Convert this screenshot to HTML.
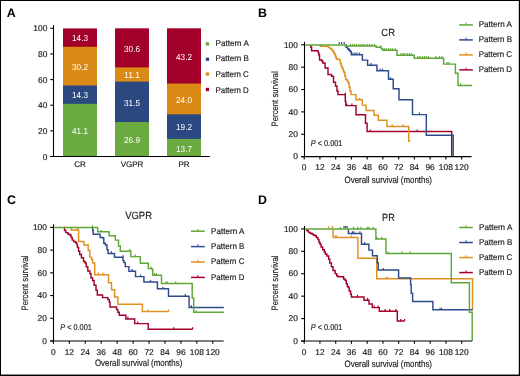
<!DOCTYPE html><html><head><meta charset="utf-8"><style>html,body{margin:0;padding:0;background:#fff;}svg{display:block;will-change:transform;}text{font-family:"Liberation Sans",sans-serif;text-rendering:geometricPrecision;}</style></head><body>
<svg width="520" height="376" viewBox="0 0 520 376">
<rect x="0" y="0" width="520" height="376" fill="#fff"/>
<text x="6.8" y="17.3" font-size="12.4" text-anchor="start" fill="#000" font-weight="bold" >A</text>
<rect x="63.0" y="28.43" width="34" height="128.07" fill="#a2002a"/>
<rect x="63.0" y="46.76" width="34" height="109.74" fill="#db8a16"/>
<rect x="63.0" y="85.48" width="34" height="71.02" fill="#2c4880"/>
<rect x="63.0" y="103.81" width="34" height="52.69" fill="#6aaa40"/>
<text x="80.0" y="133.9549" font-size="8.7" text-anchor="middle" fill="#fff" font-weight="normal" textLength="15.9" lengthAdjust="spacingAndGlyphs" >41.1</text>
<text x="80.0" y="98.44350000000001" font-size="8.7" text-anchor="middle" fill="#fff" font-weight="normal" textLength="15.9" lengthAdjust="spacingAndGlyphs" >14.3</text>
<text x="80.0" y="69.91900000000001" font-size="8.7" text-anchor="middle" fill="#fff" font-weight="normal" textLength="15.9" lengthAdjust="spacingAndGlyphs" >30.2</text>
<text x="80.0" y="41.39450000000001" font-size="8.7" text-anchor="middle" fill="#fff" font-weight="normal" textLength="15.9" lengthAdjust="spacingAndGlyphs" >14.3</text>
<text x="80.0" y="166.5" font-size="8.0" text-anchor="middle" fill="#222" font-weight="normal" stroke="#222" stroke-width="0.18" >CR</text>
<rect x="115.0" y="28.30" width="34" height="128.20" fill="#a2002a"/>
<rect x="115.0" y="67.40" width="34" height="89.10" fill="#db8a16"/>
<rect x="115.0" y="81.63" width="34" height="74.87" fill="#2c4880"/>
<rect x="115.0" y="122.01" width="34" height="34.49" fill="#6aaa40"/>
<text x="132.0" y="143.05710000000002" font-size="8.7" text-anchor="middle" fill="#fff" font-weight="normal" textLength="15.9" lengthAdjust="spacingAndGlyphs" >26.9</text>
<text x="132.0" y="105.6227" font-size="8.7" text-anchor="middle" fill="#fff" font-weight="normal" textLength="15.9" lengthAdjust="spacingAndGlyphs" >31.5</text>
<text x="132.0" y="78.31609999999999" font-size="8.7" text-anchor="middle" fill="#fff" font-weight="normal" textLength="15.9" lengthAdjust="spacingAndGlyphs" >11.1</text>
<text x="132.0" y="51.65050000000001" font-size="8.7" text-anchor="middle" fill="#fff" font-weight="normal" textLength="15.9" lengthAdjust="spacingAndGlyphs" >30.6</text>
<text x="132.0" y="166.5" font-size="8.0" text-anchor="middle" fill="#222" font-weight="normal" stroke="#222" stroke-width="0.18" >VGPR</text>
<rect x="167.0" y="28.30" width="34" height="128.20" fill="#a2002a"/>
<rect x="167.0" y="83.55" width="34" height="72.95" fill="#db8a16"/>
<rect x="167.0" y="114.32" width="34" height="42.18" fill="#2c4880"/>
<rect x="167.0" y="138.94" width="34" height="17.56" fill="#6aaa40"/>
<text x="184.0" y="151.5183" font-size="8.7" text-anchor="middle" fill="#fff" font-weight="normal" textLength="15.9" lengthAdjust="spacingAndGlyphs" >13.7</text>
<text x="184.0" y="130.42940000000002" font-size="8.7" text-anchor="middle" fill="#fff" font-weight="normal" textLength="15.9" lengthAdjust="spacingAndGlyphs" >19.2</text>
<text x="184.0" y="102.73819999999999" font-size="8.7" text-anchor="middle" fill="#fff" font-weight="normal" textLength="15.9" lengthAdjust="spacingAndGlyphs" >24.0</text>
<text x="184.0" y="59.72710000000001" font-size="8.7" text-anchor="middle" fill="#fff" font-weight="normal" textLength="15.9" lengthAdjust="spacingAndGlyphs" >43.2</text>
<text x="184.0" y="166.5" font-size="8.0" text-anchor="middle" fill="#222" font-weight="normal" stroke="#222" stroke-width="0.18" >PR</text>
<line x1="53.5" y1="25" x2="53.5" y2="157" stroke="#000" stroke-width="1.1"/>
<line x1="50.3" y1="156.5" x2="53.5" y2="156.5" stroke="#000" stroke-width="1.1"/>
<text x="47.3" y="159.5" font-size="8.4" text-anchor="end" fill="#222" font-weight="normal" stroke="#222" stroke-width="0.18" >0</text>
<line x1="50.3" y1="130.86" x2="53.5" y2="130.86" stroke="#000" stroke-width="1.1"/>
<text x="47.3" y="133.86" font-size="8.4" text-anchor="end" fill="#222" font-weight="normal" stroke="#222" stroke-width="0.18" >20</text>
<line x1="50.3" y1="105.22" x2="53.5" y2="105.22" stroke="#000" stroke-width="1.1"/>
<text x="47.3" y="108.22" font-size="8.4" text-anchor="end" fill="#222" font-weight="normal" stroke="#222" stroke-width="0.18" >40</text>
<line x1="50.3" y1="79.58000000000001" x2="53.5" y2="79.58000000000001" stroke="#000" stroke-width="1.1"/>
<text x="47.3" y="82.58000000000001" font-size="8.4" text-anchor="end" fill="#222" font-weight="normal" stroke="#222" stroke-width="0.18" >60</text>
<line x1="50.3" y1="53.94000000000001" x2="53.5" y2="53.94000000000001" stroke="#000" stroke-width="1.1"/>
<text x="47.3" y="56.94000000000001" font-size="8.4" text-anchor="end" fill="#222" font-weight="normal" stroke="#222" stroke-width="0.18" >80</text>
<line x1="50.3" y1="28.30000000000001" x2="53.5" y2="28.30000000000001" stroke="#000" stroke-width="1.1"/>
<text x="47.3" y="31.30000000000001" font-size="8.4" text-anchor="end" fill="#222" font-weight="normal" stroke="#222" stroke-width="0.18" >100</text>
<line x1="50.1" y1="156.5" x2="209.8" y2="156.5" stroke="#000" stroke-width="1.0"/>
<rect x="205.8" y="42.2" width="3.3" height="3.3" fill="#6aaa40"/>
<text x="215.5" y="45.8" font-size="8.4" text-anchor="start" fill="#222" font-weight="normal" textLength="33.3" lengthAdjust="spacingAndGlyphs" stroke="#222" stroke-width="0.18" >Pattern A</text>
<rect x="205.8" y="57.6" width="3.3" height="3.3" fill="#2c4880"/>
<text x="215.5" y="61.1" font-size="8.4" text-anchor="start" fill="#222" font-weight="normal" textLength="33.3" lengthAdjust="spacingAndGlyphs" stroke="#222" stroke-width="0.18" >Pattern B</text>
<rect x="205.8" y="72.4" width="3.3" height="3.3" fill="#db8a16"/>
<text x="215.5" y="76.8" font-size="8.4" text-anchor="start" fill="#222" font-weight="normal" textLength="33.3" lengthAdjust="spacingAndGlyphs" stroke="#222" stroke-width="0.18" >Pattern C</text>
<rect x="205.8" y="87.8" width="3.3" height="3.3" fill="#a2002a"/>
<text x="215.5" y="92.9" font-size="8.4" text-anchor="start" fill="#222" font-weight="normal" textLength="33.3" lengthAdjust="spacingAndGlyphs" stroke="#222" stroke-width="0.18" >Pattern D</text>
<path d="M310.20,44.90 L310.20,45.60 L310.80,45.60 L310.80,47.20 L311.60,47.20 L311.60,48.80 L311.60,50.80 L318.00,50.80 L318.20,50.80 L318.20,52.80 L318.80,52.80 L318.80,54.80 L319.50,54.80 L319.50,57.60 L319.60,57.60 L319.60,60.00 L322.00,60.00 L322.00,61.20 L322.80,61.20 L322.80,62.90 L325.10,62.90 L325.10,67.90 L327.10,67.90 L328.00,67.90 L328.00,74.40 L331.20,74.40 L331.50,74.40 L331.50,76.30 L333.50,76.30 L333.50,82.30 L335.50,82.30 L335.50,86.00 L337.00,86.00 L337.00,90.90 L338.00,90.90 L338.00,94.60 L345.30,94.60 L345.30,101.40 L345.80,101.40 L345.80,105.60 L356.00,105.60 L356.00,114.70 L365.50,114.70 L365.50,123.20 L367.10,123.20 L367.10,131.50 L451.70,131.50 L451.70,156.60" fill="none" stroke="#a5002b" stroke-width="1.45" stroke-linejoin="miter" stroke-linecap="butt"/>
<line x1="345.3" y1="94.6" x2="345.3" y2="92.5" stroke="#a5002b" stroke-width="1.2"/>
<line x1="346.9" y1="105.6" x2="346.9" y2="103.5" stroke="#a5002b" stroke-width="1.2"/>
<line x1="351.9" y1="105.6" x2="351.9" y2="103.5" stroke="#a5002b" stroke-width="1.2"/>
<line x1="370.3" y1="131.5" x2="370.3" y2="129.4" stroke="#a5002b" stroke-width="1.2"/>
<line x1="417.2" y1="131.5" x2="417.2" y2="129.4" stroke="#a5002b" stroke-width="1.2"/>
<path d="M320.40,44.90 L320.40,46.20 L326.00,46.20 L328.40,46.20 L328.40,47.60 L330.00,47.60 L330.00,48.40 L331.60,48.40 L331.60,49.60 L332.40,49.60 L332.40,50.80 L333.60,50.80 L333.60,52.40 L334.40,52.40 L334.40,54.00 L335.20,54.00 L335.20,56.00 L336.00,56.00 L336.00,58.00 L336.80,58.00 L336.80,59.20 L339.20,59.20 L340.00,59.20 L340.00,61.20 L340.40,61.20 L340.40,63.50 L341.20,63.50 L341.20,66.00 L342.00,66.00 L342.00,68.30 L343.20,68.30 L343.20,70.70 L344.00,70.70 L344.00,72.50 L344.80,72.50 L344.80,76.00 L345.60,76.00 L345.60,79.50 L347.20,79.50 L347.20,81.30 L348.20,81.30 L348.20,83.00 L349.20,83.00 L349.20,87.00 L350.00,87.00 L350.00,91.00 L351.00,91.00 L351.00,94.60 L356.00,94.60 L356.00,99.80 L362.30,99.80 L362.30,105.10 L366.10,105.10 L366.10,110.40 L374.00,110.40 L374.00,115.20 L378.30,115.20 L378.30,120.30 L387.00,120.30 L387.00,126.40 L408.70,126.40 L408.70,141.00" fill="none" stroke="#e0901c" stroke-width="1.45" stroke-linejoin="miter" stroke-linecap="butt"/>
<line x1="359.7" y1="99.8" x2="359.7" y2="97.7" stroke="#e0901c" stroke-width="1.2"/>
<line x1="392.1" y1="126.4" x2="392.1" y2="124.30000000000001" stroke="#e0901c" stroke-width="1.2"/>
<line x1="403.2" y1="126.4" x2="403.2" y2="124.30000000000001" stroke="#e0901c" stroke-width="1.2"/>
<path d="M345.60,44.90 L346.30,44.90 L346.30,47.30 L347.50,47.30 L347.50,48.80 L348.80,48.80 L348.80,50.30 L350.30,50.30 L350.30,51.80 L351.30,51.80 L351.30,54.70 L362.40,54.70 L362.40,60.10 L367.60,60.10 L367.60,65.20 L376.90,65.20 L376.90,70.80 L388.50,70.80 L388.50,79.30 L393.20,79.30 L393.20,88.80 L399.00,88.80 L399.00,99.70 L412.50,99.70 L412.50,114.60 L426.30,114.60 L426.30,135.30 L453.20,135.30 L453.20,156.60" fill="none" stroke="#2f4b8c" stroke-width="1.45" stroke-linejoin="miter" stroke-linecap="butt"/>
<line x1="339.2" y1="44.2" x2="339.2" y2="42.1" stroke="#2f4b8c" stroke-width="1.2"/>
<line x1="341.6" y1="44.2" x2="341.6" y2="42.1" stroke="#2f4b8c" stroke-width="1.2"/>
<line x1="344.2" y1="44.2" x2="344.2" y2="42.1" stroke="#2f4b8c" stroke-width="1.2"/>
<line x1="353" y1="54.7" x2="353" y2="52.6" stroke="#2f4b8c" stroke-width="1.2"/>
<line x1="355" y1="54.7" x2="355" y2="52.6" stroke="#2f4b8c" stroke-width="1.2"/>
<line x1="357" y1="54.7" x2="357" y2="52.6" stroke="#2f4b8c" stroke-width="1.2"/>
<line x1="359.5" y1="54.7" x2="359.5" y2="52.6" stroke="#2f4b8c" stroke-width="1.2"/>
<line x1="371" y1="65.2" x2="371" y2="63.1" stroke="#2f4b8c" stroke-width="1.2"/>
<line x1="380" y1="70.8" x2="380" y2="68.7" stroke="#2f4b8c" stroke-width="1.2"/>
<line x1="382.5" y1="70.8" x2="382.5" y2="68.7" stroke="#2f4b8c" stroke-width="1.2"/>
<line x1="390.5" y1="79.3" x2="390.5" y2="77.2" stroke="#2f4b8c" stroke-width="1.2"/>
<line x1="419.4" y1="114.6" x2="419.4" y2="112.5" stroke="#2f4b8c" stroke-width="1.2"/>
<path d="M304.50,44.90 L345.20,44.90 L345.20,46.00 L376.20,46.00 L376.20,47.30 L381.20,47.30 L381.20,48.60 L382.60,48.60 L382.60,50.30 L397.00,50.30 L397.00,55.20 L414.30,55.20 L414.30,58.20 L443.60,58.20 L443.60,64.10 L455.40,64.10 L455.40,73.30 L458.00,73.30 L458.00,85.40 L472.00,85.40" fill="none" stroke="#5fa637" stroke-width="1.45" stroke-linejoin="miter" stroke-linecap="butt"/>
<line x1="350.5" y1="46.0" x2="350.5" y2="43.9" stroke="#5fa637" stroke-width="1.2"/>
<line x1="352.5" y1="46.0" x2="352.5" y2="43.9" stroke="#5fa637" stroke-width="1.2"/>
<line x1="354.5" y1="46.0" x2="354.5" y2="43.9" stroke="#5fa637" stroke-width="1.2"/>
<line x1="356.5" y1="46.0" x2="356.5" y2="43.9" stroke="#5fa637" stroke-width="1.2"/>
<line x1="359" y1="46.0" x2="359" y2="43.9" stroke="#5fa637" stroke-width="1.2"/>
<line x1="361" y1="46.0" x2="361" y2="43.9" stroke="#5fa637" stroke-width="1.2"/>
<line x1="363" y1="46.0" x2="363" y2="43.9" stroke="#5fa637" stroke-width="1.2"/>
<line x1="365" y1="46.0" x2="365" y2="43.9" stroke="#5fa637" stroke-width="1.2"/>
<line x1="367.5" y1="46.0" x2="367.5" y2="43.9" stroke="#5fa637" stroke-width="1.2"/>
<line x1="369.5" y1="46.0" x2="369.5" y2="43.9" stroke="#5fa637" stroke-width="1.2"/>
<line x1="372" y1="46.0" x2="372" y2="43.9" stroke="#5fa637" stroke-width="1.2"/>
<line x1="374.5" y1="46.0" x2="374.5" y2="43.9" stroke="#5fa637" stroke-width="1.2"/>
<line x1="380.8" y1="47.3" x2="380.8" y2="45.199999999999996" stroke="#5fa637" stroke-width="1.2"/>
<line x1="384.4" y1="50.3" x2="384.4" y2="48.199999999999996" stroke="#5fa637" stroke-width="1.2"/>
<line x1="386.2" y1="50.3" x2="386.2" y2="48.199999999999996" stroke="#5fa637" stroke-width="1.2"/>
<line x1="388.3" y1="50.3" x2="388.3" y2="48.199999999999996" stroke="#5fa637" stroke-width="1.2"/>
<line x1="390.5" y1="50.3" x2="390.5" y2="48.199999999999996" stroke="#5fa637" stroke-width="1.2"/>
<line x1="392.5" y1="50.3" x2="392.5" y2="48.199999999999996" stroke="#5fa637" stroke-width="1.2"/>
<line x1="395.3" y1="50.3" x2="395.3" y2="48.199999999999996" stroke="#5fa637" stroke-width="1.2"/>
<line x1="401" y1="55.2" x2="401" y2="53.1" stroke="#5fa637" stroke-width="1.2"/>
<line x1="403" y1="55.2" x2="403" y2="53.1" stroke="#5fa637" stroke-width="1.2"/>
<line x1="405" y1="55.2" x2="405" y2="53.1" stroke="#5fa637" stroke-width="1.2"/>
<line x1="407.5" y1="55.2" x2="407.5" y2="53.1" stroke="#5fa637" stroke-width="1.2"/>
<line x1="409.5" y1="55.2" x2="409.5" y2="53.1" stroke="#5fa637" stroke-width="1.2"/>
<line x1="411.5" y1="55.2" x2="411.5" y2="53.1" stroke="#5fa637" stroke-width="1.2"/>
<line x1="418" y1="58.2" x2="418" y2="56.1" stroke="#5fa637" stroke-width="1.2"/>
<line x1="420" y1="58.2" x2="420" y2="56.1" stroke="#5fa637" stroke-width="1.2"/>
<line x1="422.5" y1="58.2" x2="422.5" y2="56.1" stroke="#5fa637" stroke-width="1.2"/>
<line x1="424.5" y1="58.2" x2="424.5" y2="56.1" stroke="#5fa637" stroke-width="1.2"/>
<line x1="426.5" y1="58.2" x2="426.5" y2="56.1" stroke="#5fa637" stroke-width="1.2"/>
<line x1="428.5" y1="58.2" x2="428.5" y2="56.1" stroke="#5fa637" stroke-width="1.2"/>
<line x1="436" y1="58.2" x2="436" y2="56.1" stroke="#5fa637" stroke-width="1.2"/>
<line x1="439.5" y1="58.2" x2="439.5" y2="56.1" stroke="#5fa637" stroke-width="1.2"/>
<line x1="442" y1="58.2" x2="442" y2="56.1" stroke="#5fa637" stroke-width="1.2"/>
<line x1="447" y1="64.1" x2="447" y2="61.99999999999999" stroke="#5fa637" stroke-width="1.2"/>
<line x1="449" y1="64.1" x2="449" y2="61.99999999999999" stroke="#5fa637" stroke-width="1.2"/>
<line x1="460.5" y1="85.4" x2="460.5" y2="83.30000000000001" stroke="#5fa637" stroke-width="1.2"/>
<path d="M64.20,227.40 L64.50,227.40 L64.50,230.50 L65.80,230.50 L65.80,232.60 L68.00,232.60 L68.00,234.20 L70.10,234.20 L70.10,235.30 L71.10,235.30 L71.10,237.40 L72.20,237.40 L72.20,240.10 L73.80,240.10 L73.80,241.70 L75.90,241.70 L75.90,243.30 L77.00,243.30 L77.00,244.90 L77.50,244.90 L77.50,247.50 L78.60,247.50 L78.60,251.30 L79.70,251.30 L79.70,254.40 L81.40,254.40 L81.40,257.70 L83.50,257.70 L83.50,261.40 L85.10,261.40 L85.10,263.00 L86.20,263.00 L86.20,266.70 L87.80,266.70 L87.80,271.00 L89.90,271.00 L89.90,273.60 L91.00,273.60 L91.00,277.90 L92.60,277.90 L92.60,280.50 L94.10,280.50 L94.10,285.30 L96.00,285.30 L96.00,290.30 L97.30,290.30 L97.30,295.00 L102.60,295.00 L102.60,297.60 L106.60,297.60 L108.00,297.60 L108.00,299.60 L109.30,299.60 L109.30,302.30 L110.00,302.30 L110.00,306.90 L116.60,306.90 L116.60,309.60 L117.90,309.60 L117.90,312.30 L119.30,312.30 L119.30,315.30 L125.50,315.30 L125.90,315.30 L125.90,318.90 L134.70,318.90 L134.70,323.60 L148.20,323.60 L148.20,329.30 L192.60,329.30" fill="none" stroke="#a5002b" stroke-width="1.45" stroke-linejoin="miter" stroke-linecap="butt"/>
<line x1="127.9" y1="318.9" x2="127.9" y2="316.79999999999995" stroke="#a5002b" stroke-width="1.2"/>
<line x1="137.7" y1="323.6" x2="137.7" y2="321.5" stroke="#a5002b" stroke-width="1.2"/>
<line x1="173.7" y1="329.3" x2="173.7" y2="327.2" stroke="#a5002b" stroke-width="1.2"/>
<line x1="192.6" y1="329.3" x2="192.6" y2="327.2" stroke="#a5002b" stroke-width="1.2"/>
<path d="M71.10,227.40 L71.10,230.00 L78.60,230.00 L78.60,241.50 L83.90,241.50 L83.90,244.90 L88.20,244.90 L88.20,250.20 L89.80,250.20 L89.80,257.10 L91.50,257.10 L91.50,259.30 L92.60,259.30 L92.60,263.00 L94.70,263.00 L94.70,264.00 L94.70,274.70 L108.50,274.70 L108.50,282.70 L111.50,282.70 L111.50,289.70 L114.60,289.70 L114.60,297.00 L117.90,297.00 L117.90,304.20 L142.40,304.20 L142.40,311.50 L168.60,311.50" fill="none" stroke="#e0901c" stroke-width="1.45" stroke-linejoin="miter" stroke-linecap="butt"/>
<line x1="77.6" y1="230" x2="77.6" y2="227.9" stroke="#e0901c" stroke-width="1.2"/>
<line x1="98.4" y1="274.7" x2="98.4" y2="272.59999999999997" stroke="#e0901c" stroke-width="1.2"/>
<line x1="102.7" y1="274.7" x2="102.7" y2="272.59999999999997" stroke="#e0901c" stroke-width="1.2"/>
<line x1="147.8" y1="311.5" x2="147.8" y2="309.4" stroke="#e0901c" stroke-width="1.2"/>
<line x1="168.6" y1="311.5" x2="168.6" y2="309.4" stroke="#e0901c" stroke-width="1.2"/>
<path d="M92.70,227.40 L92.70,230.50 L93.20,230.50 L93.20,234.20 L100.10,234.20 L100.10,237.40 L102.80,237.40 L102.80,238.00 L103.80,238.00 L103.80,243.30 L105.40,243.30 L105.40,244.90 L107.00,244.90 L107.00,249.70 L108.10,249.70 L108.10,253.40 L114.50,253.40 L114.50,257.30 L123.00,257.30 L123.00,260.60 L124.00,260.60 L124.00,262.60 L125.30,262.60 L125.30,266.60 L128.90,266.60 L128.90,271.20 L135.50,271.20 L135.50,276.60 L143.90,276.60 L143.90,281.90 L157.40,281.90 L157.40,288.80 L168.50,288.80 L168.50,296.20 L189.10,296.20 L189.10,307.40 L223.80,307.40" fill="none" stroke="#2f4b8c" stroke-width="1.45" stroke-linejoin="miter" stroke-linecap="butt"/>
<line x1="111.3" y1="253.4" x2="111.3" y2="251.3" stroke="#2f4b8c" stroke-width="1.2"/>
<line x1="123" y1="257.3" x2="123" y2="255.20000000000002" stroke="#2f4b8c" stroke-width="1.2"/>
<line x1="132.3" y1="271.2" x2="132.3" y2="269.09999999999997" stroke="#2f4b8c" stroke-width="1.2"/>
<line x1="140.6" y1="276.6" x2="140.6" y2="274.5" stroke="#2f4b8c" stroke-width="1.2"/>
<line x1="150.5" y1="281.9" x2="150.5" y2="279.79999999999995" stroke="#2f4b8c" stroke-width="1.2"/>
<line x1="162.9" y1="288.8" x2="162.9" y2="286.7" stroke="#2f4b8c" stroke-width="1.2"/>
<line x1="185.3" y1="296.2" x2="185.3" y2="294.09999999999997" stroke="#2f4b8c" stroke-width="1.2"/>
<line x1="191.4" y1="307.4" x2="191.4" y2="305.29999999999995" stroke="#2f4b8c" stroke-width="1.2"/>
<path d="M53.50,227.40 L97.70,227.40 L97.70,231.80 L109.10,231.80 L109.10,235.80 L115.30,235.80 L115.30,240.10 L118.50,240.10 L118.50,245.90 L120.30,245.90 L120.30,251.20 L130.80,251.20 L130.80,256.60 L140.30,256.60 L140.30,263.30 L148.30,263.30 L148.30,268.60 L152.30,268.60 L152.30,270.00 L152.80,270.00 L152.80,275.20 L161.50,275.20 L161.50,283.50 L192.20,283.50 L192.20,297.90 L193.70,297.90 L193.70,312.30 L223.80,312.30" fill="none" stroke="#5fa637" stroke-width="1.45" stroke-linejoin="miter" stroke-linecap="butt"/>
<line x1="92.4" y1="227.4" x2="92.4" y2="225.3" stroke="#5fa637" stroke-width="1.2"/>
<line x1="101.2" y1="231.8" x2="101.2" y2="229.70000000000002" stroke="#5fa637" stroke-width="1.2"/>
<line x1="129.9" y1="251.2" x2="129.9" y2="249.1" stroke="#5fa637" stroke-width="1.2"/>
<line x1="135.3" y1="256.6" x2="135.3" y2="254.50000000000003" stroke="#5fa637" stroke-width="1.2"/>
<line x1="151.2" y1="268.6" x2="151.2" y2="266.5" stroke="#5fa637" stroke-width="1.2"/>
<line x1="154.5" y1="275.2" x2="154.5" y2="273.09999999999997" stroke="#5fa637" stroke-width="1.2"/>
<line x1="156.5" y1="275.2" x2="156.5" y2="273.09999999999997" stroke="#5fa637" stroke-width="1.2"/>
<line x1="166" y1="283.5" x2="166" y2="281.4" stroke="#5fa637" stroke-width="1.2"/>
<line x1="167.3" y1="283.5" x2="167.3" y2="281.4" stroke="#5fa637" stroke-width="1.2"/>
<line x1="175.7" y1="283.5" x2="175.7" y2="281.4" stroke="#5fa637" stroke-width="1.2"/>
<line x1="196.2" y1="312.3" x2="196.2" y2="310.2" stroke="#5fa637" stroke-width="1.2"/>
<path d="M306.70,228.90 L306.70,230.50 L308.30,230.50 L308.30,232.10 L309.90,232.10 L309.90,233.20 L312.00,233.20 L312.00,234.20 L313.60,234.20 L313.60,235.30 L315.20,235.30 L315.20,235.80 L316.30,235.80 L316.30,237.40 L317.90,237.40 L317.90,239.60 L319.00,239.60 L319.00,242.20 L320.00,242.20 L320.00,244.30 L321.10,244.30 L321.10,247.00 L322.70,247.00 L322.70,249.70 L324.30,249.70 L324.30,251.80 L325.30,251.80 L325.30,253.90 L326.90,253.90 L326.90,256.00 L328.70,256.00 L328.70,259.30 L329.80,259.30 L329.80,263.00 L331.40,263.00 L331.40,266.70 L333.00,266.70 L333.00,270.40 L335.10,270.40 L335.10,273.60 L336.70,273.60 L336.70,275.70 L337.80,275.70 L337.80,276.80 L342.00,276.80 L343.60,276.80 L343.60,278.90 L345.20,278.90 L345.20,280.50 L346.30,280.50 L346.30,283.70 L347.30,283.70 L347.30,286.40 L348.30,286.40 L348.30,287.50 L349.20,287.50 L349.20,291.00 L350.60,291.00 L350.60,294.30 L351.40,294.30 L351.40,297.00 L364.00,297.00 L364.00,300.20 L369.00,300.20 L369.00,304.00 L372.30,304.00 L372.30,307.60 L379.30,307.60 L379.30,311.20 L397.30,311.20 L397.30,321.00 L404.60,321.00" fill="none" stroke="#a5002b" stroke-width="1.45" stroke-linejoin="miter" stroke-linecap="butt"/>
<line x1="357.5" y1="297.0" x2="357.5" y2="294.9" stroke="#a5002b" stroke-width="1.2"/>
<line x1="367.6" y1="300.2" x2="367.6" y2="298.09999999999997" stroke="#a5002b" stroke-width="1.2"/>
<line x1="374.3" y1="307.6" x2="374.3" y2="305.5" stroke="#a5002b" stroke-width="1.2"/>
<line x1="378.2" y1="307.6" x2="378.2" y2="305.5" stroke="#a5002b" stroke-width="1.2"/>
<line x1="385.1" y1="311.2" x2="385.1" y2="309.09999999999997" stroke="#a5002b" stroke-width="1.2"/>
<line x1="389.8" y1="311.2" x2="389.8" y2="309.09999999999997" stroke="#a5002b" stroke-width="1.2"/>
<line x1="395.9" y1="311.2" x2="395.9" y2="309.09999999999997" stroke="#a5002b" stroke-width="1.2"/>
<line x1="400.8" y1="321" x2="400.8" y2="318.9" stroke="#a5002b" stroke-width="1.2"/>
<line x1="404.6" y1="321" x2="404.6" y2="318.9" stroke="#a5002b" stroke-width="1.2"/>
<path d="M333.10,228.90 L333.10,237.40 L357.90,237.40 L357.90,258.20 L376.70,258.20 L376.70,278.80 L472.50,278.80 L472.50,309.80" fill="none" stroke="#e0901c" stroke-width="1.45" stroke-linejoin="miter" stroke-linecap="butt"/>
<line x1="328.5" y1="228.2" x2="328.5" y2="226.1" stroke="#e0901c" stroke-width="1.2"/>
<line x1="332.3" y1="228.2" x2="332.3" y2="226.1" stroke="#e0901c" stroke-width="1.2"/>
<line x1="335.4" y1="237.4" x2="335.4" y2="235.3" stroke="#e0901c" stroke-width="1.2"/>
<line x1="337" y1="237.4" x2="337" y2="235.3" stroke="#e0901c" stroke-width="1.2"/>
<line x1="351.2" y1="237.4" x2="351.2" y2="235.3" stroke="#e0901c" stroke-width="1.2"/>
<line x1="386" y1="278.8" x2="386" y2="276.7" stroke="#e0901c" stroke-width="1.2"/>
<line x1="388" y1="278.8" x2="388" y2="276.7" stroke="#e0901c" stroke-width="1.2"/>
<path d="M348.40,228.90 L348.40,233.40 L360.70,233.40 L361.50,233.40 L361.50,238.90 L361.50,244.20 L368.90,244.20 L368.90,250.10 L372.50,250.10 L372.50,255.80 L377.30,255.80 L377.30,262.70 L378.20,262.70 L378.20,264.00 L378.20,270.00 L398.60,270.00 L398.60,278.00 L410.60,278.00 L410.60,284.60 L411.20,284.60 L411.20,285.90 L411.20,293.20 L412.60,293.20 L412.60,294.80 L412.60,301.50 L432.90,301.50 L432.90,309.80 L472.80,309.80" fill="none" stroke="#2f4b8c" stroke-width="1.45" stroke-linejoin="miter" stroke-linecap="butt"/>
<line x1="344" y1="228.2" x2="344" y2="226.1" stroke="#2f4b8c" stroke-width="1.2"/>
<line x1="345.6" y1="228.2" x2="345.6" y2="226.1" stroke="#2f4b8c" stroke-width="1.2"/>
<line x1="347.1" y1="228.2" x2="347.1" y2="226.1" stroke="#2f4b8c" stroke-width="1.2"/>
<line x1="352.4" y1="233.4" x2="352.4" y2="231.3" stroke="#2f4b8c" stroke-width="1.2"/>
<line x1="354" y1="233.4" x2="354" y2="231.3" stroke="#2f4b8c" stroke-width="1.2"/>
<line x1="359.9" y1="233.4" x2="359.9" y2="231.3" stroke="#2f4b8c" stroke-width="1.2"/>
<line x1="364.7" y1="244.2" x2="364.7" y2="242.1" stroke="#2f4b8c" stroke-width="1.2"/>
<line x1="383.3" y1="270" x2="383.3" y2="267.9" stroke="#2f4b8c" stroke-width="1.2"/>
<line x1="440" y1="309.8" x2="440" y2="307.7" stroke="#2f4b8c" stroke-width="1.2"/>
<line x1="441.5" y1="309.8" x2="441.5" y2="307.7" stroke="#2f4b8c" stroke-width="1.2"/>
<path d="M304.50,228.90 L375.90,228.90 L375.90,238.90 L386.00,238.90 L386.00,253.50 L451.30,253.50 L451.30,282.80 L469.40,282.80 L469.40,312.30 L472.20,312.30 L472.20,341.00" fill="none" stroke="#5fa637" stroke-width="1.45" stroke-linejoin="miter" stroke-linecap="butt"/>
<line x1="340.2" y1="228.9" x2="340.2" y2="226.8" stroke="#5fa637" stroke-width="1.2"/>
<line x1="353.5" y1="228.9" x2="353.5" y2="226.8" stroke="#5fa637" stroke-width="1.2"/>
<line x1="357.8" y1="228.9" x2="357.8" y2="226.8" stroke="#5fa637" stroke-width="1.2"/>
<line x1="361" y1="228.9" x2="361" y2="226.8" stroke="#5fa637" stroke-width="1.2"/>
<line x1="367.3" y1="228.9" x2="367.3" y2="226.8" stroke="#5fa637" stroke-width="1.2"/>
<line x1="368.9" y1="228.9" x2="368.9" y2="226.8" stroke="#5fa637" stroke-width="1.2"/>
<line x1="373.2" y1="228.9" x2="373.2" y2="226.8" stroke="#5fa637" stroke-width="1.2"/>
<line x1="376.9" y1="238.9" x2="376.9" y2="236.8" stroke="#5fa637" stroke-width="1.2"/>
<line x1="381.7" y1="238.9" x2="381.7" y2="236.8" stroke="#5fa637" stroke-width="1.2"/>
<line x1="388.1" y1="253.5" x2="388.1" y2="251.4" stroke="#5fa637" stroke-width="1.2"/>
<line x1="401.9" y1="253.5" x2="401.9" y2="251.4" stroke="#5fa637" stroke-width="1.2"/>
<line x1="410.3" y1="253.5" x2="410.3" y2="251.4" stroke="#5fa637" stroke-width="1.2"/>
<circle cx="409.2" cy="141.0" r="1.15" fill="#e0901c"/>
<text x="258.0" y="17.4" font-size="12.4" text-anchor="start" fill="#000" font-weight="bold" >B</text>
<line x1="304.5" y1="41.8" x2="304.5" y2="157.1" stroke="#000" stroke-width="1.1"/>
<line x1="301.2" y1="156.6" x2="304.5" y2="156.6" stroke="#000" stroke-width="1.1"/>
<text x="297.9" y="159.35" font-size="8.4" text-anchor="end" fill="#222" font-weight="normal" stroke="#222" stroke-width="0.18" >0</text>
<line x1="301.2" y1="134.24" x2="304.5" y2="134.24" stroke="#000" stroke-width="1.1"/>
<text x="297.9" y="136.99" font-size="8.4" text-anchor="end" fill="#222" font-weight="normal" stroke="#222" stroke-width="0.18" >20</text>
<line x1="301.2" y1="111.88" x2="304.5" y2="111.88" stroke="#000" stroke-width="1.1"/>
<text x="297.9" y="114.63" font-size="8.4" text-anchor="end" fill="#222" font-weight="normal" stroke="#222" stroke-width="0.18" >40</text>
<line x1="301.2" y1="89.52" x2="304.5" y2="89.52" stroke="#000" stroke-width="1.1"/>
<text x="297.9" y="92.27" font-size="8.4" text-anchor="end" fill="#222" font-weight="normal" stroke="#222" stroke-width="0.18" >60</text>
<line x1="301.2" y1="67.16" x2="304.5" y2="67.16" stroke="#000" stroke-width="1.1"/>
<text x="297.9" y="69.91" font-size="8.4" text-anchor="end" fill="#222" font-weight="normal" stroke="#222" stroke-width="0.18" >80</text>
<line x1="301.2" y1="44.8" x2="304.5" y2="44.8" stroke="#000" stroke-width="1.1"/>
<text x="297.9" y="47.55" font-size="8.4" text-anchor="end" fill="#222" font-weight="normal" stroke="#222" stroke-width="0.18" >100</text>
<line x1="301.2" y1="156.6" x2="471.6" y2="156.6" stroke="#000" stroke-width="1.2"/>
<line x1="304.2" y1="156.6" x2="304.2" y2="159.4" stroke="#000" stroke-width="1.1"/>
<text x="304.2" y="169.79999999999998" font-size="8.4" text-anchor="middle" fill="#222" font-weight="normal" stroke="#222" stroke-width="0.18" >0</text>
<line x1="319.94" y1="156.6" x2="319.94" y2="159.4" stroke="#000" stroke-width="1.1"/>
<text x="319.94" y="169.79999999999998" font-size="8.4" text-anchor="middle" fill="#222" font-weight="normal" stroke="#222" stroke-width="0.18" >12</text>
<line x1="335.68" y1="156.6" x2="335.68" y2="159.4" stroke="#000" stroke-width="1.1"/>
<text x="335.68" y="169.79999999999998" font-size="8.4" text-anchor="middle" fill="#222" font-weight="normal" stroke="#222" stroke-width="0.18" >24</text>
<line x1="351.41999999999996" y1="156.6" x2="351.41999999999996" y2="159.4" stroke="#000" stroke-width="1.1"/>
<text x="351.41999999999996" y="169.79999999999998" font-size="8.4" text-anchor="middle" fill="#222" font-weight="normal" stroke="#222" stroke-width="0.18" >36</text>
<line x1="367.15999999999997" y1="156.6" x2="367.15999999999997" y2="159.4" stroke="#000" stroke-width="1.1"/>
<text x="367.15999999999997" y="169.79999999999998" font-size="8.4" text-anchor="middle" fill="#222" font-weight="normal" stroke="#222" stroke-width="0.18" >48</text>
<line x1="382.9" y1="156.6" x2="382.9" y2="159.4" stroke="#000" stroke-width="1.1"/>
<text x="382.9" y="169.79999999999998" font-size="8.4" text-anchor="middle" fill="#222" font-weight="normal" stroke="#222" stroke-width="0.18" >60</text>
<line x1="398.64" y1="156.6" x2="398.64" y2="159.4" stroke="#000" stroke-width="1.1"/>
<text x="398.64" y="169.79999999999998" font-size="8.4" text-anchor="middle" fill="#222" font-weight="normal" stroke="#222" stroke-width="0.18" >72</text>
<line x1="414.38" y1="156.6" x2="414.38" y2="159.4" stroke="#000" stroke-width="1.1"/>
<text x="414.38" y="169.79999999999998" font-size="8.4" text-anchor="middle" fill="#222" font-weight="normal" stroke="#222" stroke-width="0.18" >84</text>
<line x1="430.12" y1="156.6" x2="430.12" y2="159.4" stroke="#000" stroke-width="1.1"/>
<text x="430.12" y="169.79999999999998" font-size="8.4" text-anchor="middle" fill="#222" font-weight="normal" stroke="#222" stroke-width="0.18" >96</text>
<line x1="445.86" y1="156.6" x2="445.86" y2="159.4" stroke="#000" stroke-width="1.1"/>
<text x="445.86" y="169.79999999999998" font-size="8.4" text-anchor="middle" fill="#222" font-weight="normal" stroke="#222" stroke-width="0.18" >108</text>
<line x1="461.6" y1="156.6" x2="461.6" y2="159.4" stroke="#000" stroke-width="1.1"/>
<text x="461.6" y="169.79999999999998" font-size="8.4" text-anchor="middle" fill="#222" font-weight="normal" stroke="#222" stroke-width="0.18" >120</text>
<text x="388.2" y="36.3" font-size="10.4" text-anchor="middle" fill="#222" font-weight="normal" textLength="13.7" lengthAdjust="spacingAndGlyphs" stroke="#222" stroke-width="0.18" >CR</text>
<text x="388.3" y="183.2" font-size="9.4" text-anchor="middle" fill="#222" font-weight="normal" textLength="87.4" lengthAdjust="spacingAndGlyphs" stroke="#222" stroke-width="0.18" >Overall survival (months)</text>
<text x="0" y="0" font-size="9.3" text-anchor="middle" fill="#222" stroke="#222" stroke-width="0.18" textLength="55" lengthAdjust="spacingAndGlyphs" transform="translate(277.9,98.9) rotate(-90)">Percent survival</text>
<text x="310.8" y="145.5" font-size="8.4" fill="#222" stroke="#222" stroke-width="0.18" textLength="31.6" lengthAdjust="spacingAndGlyphs"><tspan font-style="italic">P</tspan> &lt; 0.001</text>
<line x1="459.2" y1="24.9" x2="472.8" y2="24.9" stroke="#5fa637" stroke-width="1.5"/>
<line x1="466.0" y1="22.599999999999998" x2="466.0" y2="24.9" stroke="#5fa637" stroke-width="1.0"/>
<text x="478.7" y="27.2" font-size="8.4" text-anchor="start" fill="#222" font-weight="normal" textLength="33.3" lengthAdjust="spacingAndGlyphs" stroke="#222" stroke-width="0.18" >Pattern A</text>
<line x1="459.2" y1="39.9" x2="472.8" y2="39.9" stroke="#2f4b8c" stroke-width="1.5"/>
<line x1="466.0" y1="37.6" x2="466.0" y2="39.9" stroke="#2f4b8c" stroke-width="1.0"/>
<text x="478.7" y="42.199999999999996" font-size="8.4" text-anchor="start" fill="#222" font-weight="normal" textLength="33.3" lengthAdjust="spacingAndGlyphs" stroke="#222" stroke-width="0.18" >Pattern B</text>
<line x1="459.2" y1="54.9" x2="472.8" y2="54.9" stroke="#e0901c" stroke-width="1.5"/>
<line x1="466.0" y1="52.6" x2="466.0" y2="54.9" stroke="#e0901c" stroke-width="1.0"/>
<text x="478.7" y="57.199999999999996" font-size="8.4" text-anchor="start" fill="#222" font-weight="normal" textLength="33.3" lengthAdjust="spacingAndGlyphs" stroke="#222" stroke-width="0.18" >Pattern C</text>
<line x1="459.2" y1="69.9" x2="472.8" y2="69.9" stroke="#a5002b" stroke-width="1.5"/>
<line x1="466.0" y1="67.60000000000001" x2="466.0" y2="69.9" stroke="#a5002b" stroke-width="1.0"/>
<text x="478.7" y="72.2" font-size="8.4" text-anchor="start" fill="#222" font-weight="normal" textLength="33.3" lengthAdjust="spacingAndGlyphs" stroke="#222" stroke-width="0.18" >Pattern D</text>
<text x="7.1" y="204.2" font-size="12.4" text-anchor="start" fill="#000" font-weight="bold" >C</text>
<line x1="53.5" y1="224.3" x2="53.5" y2="341.5" stroke="#000" stroke-width="1.1"/>
<line x1="50.2" y1="341.0" x2="53.5" y2="341.0" stroke="#000" stroke-width="1.1"/>
<text x="46.9" y="343.75" font-size="8.4" text-anchor="end" fill="#222" font-weight="normal" stroke="#222" stroke-width="0.18" >0</text>
<line x1="50.2" y1="318.28" x2="53.5" y2="318.28" stroke="#000" stroke-width="1.1"/>
<text x="46.9" y="321.03" font-size="8.4" text-anchor="end" fill="#222" font-weight="normal" stroke="#222" stroke-width="0.18" >20</text>
<line x1="50.2" y1="295.56" x2="53.5" y2="295.56" stroke="#000" stroke-width="1.1"/>
<text x="46.9" y="298.31" font-size="8.4" text-anchor="end" fill="#222" font-weight="normal" stroke="#222" stroke-width="0.18" >40</text>
<line x1="50.2" y1="272.84000000000003" x2="53.5" y2="272.84000000000003" stroke="#000" stroke-width="1.1"/>
<text x="46.9" y="275.59000000000003" font-size="8.4" text-anchor="end" fill="#222" font-weight="normal" stroke="#222" stroke-width="0.18" >60</text>
<line x1="50.2" y1="250.12" x2="53.5" y2="250.12" stroke="#000" stroke-width="1.1"/>
<text x="46.9" y="252.87" font-size="8.4" text-anchor="end" fill="#222" font-weight="normal" stroke="#222" stroke-width="0.18" >80</text>
<line x1="50.2" y1="227.4" x2="53.5" y2="227.4" stroke="#000" stroke-width="1.1"/>
<text x="46.9" y="230.15" font-size="8.4" text-anchor="end" fill="#222" font-weight="normal" stroke="#222" stroke-width="0.18" >100</text>
<line x1="50.2" y1="341.0" x2="223.7" y2="341.0" stroke="#000" stroke-width="1.2"/>
<line x1="53.4" y1="341.0" x2="53.4" y2="343.8" stroke="#000" stroke-width="1.1"/>
<text x="53.4" y="354.6" font-size="8.4" text-anchor="middle" fill="#222" font-weight="normal" stroke="#222" stroke-width="0.18" >0</text>
<line x1="69.34" y1="341.0" x2="69.34" y2="343.8" stroke="#000" stroke-width="1.1"/>
<text x="69.34" y="354.6" font-size="8.4" text-anchor="middle" fill="#222" font-weight="normal" stroke="#222" stroke-width="0.18" >12</text>
<line x1="85.28" y1="341.0" x2="85.28" y2="343.8" stroke="#000" stroke-width="1.1"/>
<text x="85.28" y="354.6" font-size="8.4" text-anchor="middle" fill="#222" font-weight="normal" stroke="#222" stroke-width="0.18" >24</text>
<line x1="101.22" y1="341.0" x2="101.22" y2="343.8" stroke="#000" stroke-width="1.1"/>
<text x="101.22" y="354.6" font-size="8.4" text-anchor="middle" fill="#222" font-weight="normal" stroke="#222" stroke-width="0.18" >36</text>
<line x1="117.16" y1="341.0" x2="117.16" y2="343.8" stroke="#000" stroke-width="1.1"/>
<text x="117.16" y="354.6" font-size="8.4" text-anchor="middle" fill="#222" font-weight="normal" stroke="#222" stroke-width="0.18" >48</text>
<line x1="133.1" y1="341.0" x2="133.1" y2="343.8" stroke="#000" stroke-width="1.1"/>
<text x="133.1" y="354.6" font-size="8.4" text-anchor="middle" fill="#222" font-weight="normal" stroke="#222" stroke-width="0.18" >60</text>
<line x1="149.04" y1="341.0" x2="149.04" y2="343.8" stroke="#000" stroke-width="1.1"/>
<text x="149.04" y="354.6" font-size="8.4" text-anchor="middle" fill="#222" font-weight="normal" stroke="#222" stroke-width="0.18" >72</text>
<line x1="164.98" y1="341.0" x2="164.98" y2="343.8" stroke="#000" stroke-width="1.1"/>
<text x="164.98" y="354.6" font-size="8.4" text-anchor="middle" fill="#222" font-weight="normal" stroke="#222" stroke-width="0.18" >84</text>
<line x1="180.92" y1="341.0" x2="180.92" y2="343.8" stroke="#000" stroke-width="1.1"/>
<text x="180.92" y="354.6" font-size="8.4" text-anchor="middle" fill="#222" font-weight="normal" stroke="#222" stroke-width="0.18" >96</text>
<line x1="196.86" y1="341.0" x2="196.86" y2="343.8" stroke="#000" stroke-width="1.1"/>
<text x="196.86" y="354.6" font-size="8.4" text-anchor="middle" fill="#222" font-weight="normal" stroke="#222" stroke-width="0.18" >108</text>
<line x1="212.8" y1="341.0" x2="212.8" y2="343.8" stroke="#000" stroke-width="1.1"/>
<text x="212.8" y="354.6" font-size="8.4" text-anchor="middle" fill="#222" font-weight="normal" stroke="#222" stroke-width="0.18" >120</text>
<text x="138.6" y="218.7" font-size="10.4" text-anchor="middle" fill="#222" font-weight="normal" textLength="26.8" lengthAdjust="spacingAndGlyphs" stroke="#222" stroke-width="0.18" >VGPR</text>
<text x="138.6" y="366.4" font-size="9.4" text-anchor="middle" fill="#222" font-weight="normal" textLength="87.4" lengthAdjust="spacingAndGlyphs" stroke="#222" stroke-width="0.18" >Overall survival (months)</text>
<text x="0" y="0" font-size="9.3" text-anchor="middle" fill="#222" stroke="#222" stroke-width="0.18" textLength="55" lengthAdjust="spacingAndGlyphs" transform="translate(28.2,283.0) rotate(-90)">Percent survival</text>
<text x="60.2" y="330.2" font-size="8.4" fill="#222" stroke="#222" stroke-width="0.18" textLength="31.6" lengthAdjust="spacingAndGlyphs"><tspan font-style="italic">P</tspan> &lt; 0.001</text>
<line x1="191.0" y1="231.2" x2="204.8" y2="231.2" stroke="#5fa637" stroke-width="1.5"/>
<line x1="197.9" y1="228.89999999999998" x2="197.9" y2="231.2" stroke="#5fa637" stroke-width="1.0"/>
<text x="211.1" y="233.5" font-size="8.4" text-anchor="start" fill="#222" font-weight="normal" textLength="33.3" lengthAdjust="spacingAndGlyphs" stroke="#222" stroke-width="0.18" >Pattern A</text>
<line x1="191.0" y1="246.6" x2="204.8" y2="246.6" stroke="#2f4b8c" stroke-width="1.5"/>
<line x1="197.9" y1="244.29999999999998" x2="197.9" y2="246.6" stroke="#2f4b8c" stroke-width="1.0"/>
<text x="211.1" y="248.9" font-size="8.4" text-anchor="start" fill="#222" font-weight="normal" textLength="33.3" lengthAdjust="spacingAndGlyphs" stroke="#222" stroke-width="0.18" >Pattern B</text>
<line x1="191.0" y1="262.0" x2="204.8" y2="262.0" stroke="#e0901c" stroke-width="1.5"/>
<line x1="197.9" y1="259.7" x2="197.9" y2="262.0" stroke="#e0901c" stroke-width="1.0"/>
<text x="211.1" y="264.3" font-size="8.4" text-anchor="start" fill="#222" font-weight="normal" textLength="33.3" lengthAdjust="spacingAndGlyphs" stroke="#222" stroke-width="0.18" >Pattern C</text>
<line x1="191.0" y1="277.4" x2="204.8" y2="277.4" stroke="#a5002b" stroke-width="1.5"/>
<line x1="197.9" y1="275.09999999999997" x2="197.9" y2="277.4" stroke="#a5002b" stroke-width="1.0"/>
<text x="211.1" y="279.7" font-size="8.4" text-anchor="start" fill="#222" font-weight="normal" textLength="33.3" lengthAdjust="spacingAndGlyphs" stroke="#222" stroke-width="0.18" >Pattern D</text>
<text x="258.0" y="204.2" font-size="12.4" text-anchor="start" fill="#000" font-weight="bold" >D</text>
<line x1="304.5" y1="225.8" x2="304.5" y2="341.5" stroke="#000" stroke-width="1.1"/>
<line x1="301.2" y1="341.0" x2="304.5" y2="341.0" stroke="#000" stroke-width="1.1"/>
<text x="297.9" y="343.75" font-size="8.4" text-anchor="end" fill="#222" font-weight="normal" stroke="#222" stroke-width="0.18" >0</text>
<line x1="301.2" y1="318.58" x2="304.5" y2="318.58" stroke="#000" stroke-width="1.1"/>
<text x="297.9" y="321.33" font-size="8.4" text-anchor="end" fill="#222" font-weight="normal" stroke="#222" stroke-width="0.18" >20</text>
<line x1="301.2" y1="296.16" x2="304.5" y2="296.16" stroke="#000" stroke-width="1.1"/>
<text x="297.9" y="298.91" font-size="8.4" text-anchor="end" fill="#222" font-weight="normal" stroke="#222" stroke-width="0.18" >40</text>
<line x1="301.2" y1="273.74" x2="304.5" y2="273.74" stroke="#000" stroke-width="1.1"/>
<text x="297.9" y="276.49" font-size="8.4" text-anchor="end" fill="#222" font-weight="normal" stroke="#222" stroke-width="0.18" >60</text>
<line x1="301.2" y1="251.32" x2="304.5" y2="251.32" stroke="#000" stroke-width="1.1"/>
<text x="297.9" y="254.07" font-size="8.4" text-anchor="end" fill="#222" font-weight="normal" stroke="#222" stroke-width="0.18" >80</text>
<line x1="301.2" y1="228.9" x2="304.5" y2="228.9" stroke="#000" stroke-width="1.1"/>
<text x="297.9" y="231.65" font-size="8.4" text-anchor="end" fill="#222" font-weight="normal" stroke="#222" stroke-width="0.18" >100</text>
<line x1="301.2" y1="341.0" x2="472.2" y2="341.0" stroke="#000" stroke-width="1.2"/>
<line x1="304.2" y1="341.0" x2="304.2" y2="343.8" stroke="#000" stroke-width="1.1"/>
<text x="304.2" y="354.5" font-size="8.4" text-anchor="middle" fill="#222" font-weight="normal" stroke="#222" stroke-width="0.18" >0</text>
<line x1="319.95" y1="341.0" x2="319.95" y2="343.8" stroke="#000" stroke-width="1.1"/>
<text x="319.95" y="354.5" font-size="8.4" text-anchor="middle" fill="#222" font-weight="normal" stroke="#222" stroke-width="0.18" >12</text>
<line x1="335.7" y1="341.0" x2="335.7" y2="343.8" stroke="#000" stroke-width="1.1"/>
<text x="335.7" y="354.5" font-size="8.4" text-anchor="middle" fill="#222" font-weight="normal" stroke="#222" stroke-width="0.18" >24</text>
<line x1="351.45" y1="341.0" x2="351.45" y2="343.8" stroke="#000" stroke-width="1.1"/>
<text x="351.45" y="354.5" font-size="8.4" text-anchor="middle" fill="#222" font-weight="normal" stroke="#222" stroke-width="0.18" >36</text>
<line x1="367.2" y1="341.0" x2="367.2" y2="343.8" stroke="#000" stroke-width="1.1"/>
<text x="367.2" y="354.5" font-size="8.4" text-anchor="middle" fill="#222" font-weight="normal" stroke="#222" stroke-width="0.18" >48</text>
<line x1="382.95" y1="341.0" x2="382.95" y2="343.8" stroke="#000" stroke-width="1.1"/>
<text x="382.95" y="354.5" font-size="8.4" text-anchor="middle" fill="#222" font-weight="normal" stroke="#222" stroke-width="0.18" >60</text>
<line x1="398.7" y1="341.0" x2="398.7" y2="343.8" stroke="#000" stroke-width="1.1"/>
<text x="398.7" y="354.5" font-size="8.4" text-anchor="middle" fill="#222" font-weight="normal" stroke="#222" stroke-width="0.18" >72</text>
<line x1="414.45" y1="341.0" x2="414.45" y2="343.8" stroke="#000" stroke-width="1.1"/>
<text x="414.45" y="354.5" font-size="8.4" text-anchor="middle" fill="#222" font-weight="normal" stroke="#222" stroke-width="0.18" >84</text>
<line x1="430.2" y1="341.0" x2="430.2" y2="343.8" stroke="#000" stroke-width="1.1"/>
<text x="430.2" y="354.5" font-size="8.4" text-anchor="middle" fill="#222" font-weight="normal" stroke="#222" stroke-width="0.18" >96</text>
<line x1="445.95" y1="341.0" x2="445.95" y2="343.8" stroke="#000" stroke-width="1.1"/>
<text x="445.95" y="354.5" font-size="8.4" text-anchor="middle" fill="#222" font-weight="normal" stroke="#222" stroke-width="0.18" >108</text>
<line x1="461.7" y1="341.0" x2="461.7" y2="343.8" stroke="#000" stroke-width="1.1"/>
<text x="461.7" y="354.5" font-size="8.4" text-anchor="middle" fill="#222" font-weight="normal" stroke="#222" stroke-width="0.18" >120</text>
<text x="388.4" y="220.5" font-size="10.4" text-anchor="middle" fill="#222" font-weight="normal" textLength="12.6" lengthAdjust="spacingAndGlyphs" stroke="#222" stroke-width="0.18" >PR</text>
<text x="388.3" y="366.6" font-size="9.4" text-anchor="middle" fill="#222" font-weight="normal" textLength="87.4" lengthAdjust="spacingAndGlyphs" stroke="#222" stroke-width="0.18" >Overall survival (months)</text>
<text x="0" y="0" font-size="9.3" text-anchor="middle" fill="#222" stroke="#222" stroke-width="0.18" textLength="55" lengthAdjust="spacingAndGlyphs" transform="translate(278.0,283.0) rotate(-90)">Percent survival</text>
<text x="310.8" y="329.9" font-size="8.4" fill="#222" stroke="#222" stroke-width="0.18" textLength="31.6" lengthAdjust="spacingAndGlyphs"><tspan font-style="italic">P</tspan> &lt; 0.001</text>
<line x1="459.2" y1="227.5" x2="472.8" y2="227.5" stroke="#5fa637" stroke-width="1.5"/>
<line x1="466.0" y1="225.2" x2="466.0" y2="227.5" stroke="#5fa637" stroke-width="1.0"/>
<text x="479.0" y="229.8" font-size="8.4" text-anchor="start" fill="#222" font-weight="normal" textLength="33.3" lengthAdjust="spacingAndGlyphs" stroke="#222" stroke-width="0.18" >Pattern A</text>
<line x1="459.2" y1="242.53" x2="472.8" y2="242.53" stroke="#2f4b8c" stroke-width="1.5"/>
<line x1="466.0" y1="240.23" x2="466.0" y2="242.53" stroke="#2f4b8c" stroke-width="1.0"/>
<text x="479.0" y="244.83" font-size="8.4" text-anchor="start" fill="#222" font-weight="normal" textLength="33.3" lengthAdjust="spacingAndGlyphs" stroke="#222" stroke-width="0.18" >Pattern B</text>
<line x1="459.2" y1="257.56" x2="472.8" y2="257.56" stroke="#e0901c" stroke-width="1.5"/>
<line x1="466.0" y1="255.26" x2="466.0" y2="257.56" stroke="#e0901c" stroke-width="1.0"/>
<text x="479.0" y="259.86" font-size="8.4" text-anchor="start" fill="#222" font-weight="normal" textLength="33.3" lengthAdjust="spacingAndGlyphs" stroke="#222" stroke-width="0.18" >Pattern C</text>
<line x1="459.2" y1="272.59" x2="472.8" y2="272.59" stroke="#a5002b" stroke-width="1.5"/>
<line x1="466.0" y1="270.28999999999996" x2="466.0" y2="272.59" stroke="#a5002b" stroke-width="1.0"/>
<text x="479.0" y="274.89" font-size="8.4" text-anchor="start" fill="#222" font-weight="normal" textLength="33.3" lengthAdjust="spacingAndGlyphs" stroke="#222" stroke-width="0.18" >Pattern D</text>
<rect x="0" y="0" width="520" height="1" fill="#000"/>
<rect x="0" y="0" width="1" height="376" fill="#000"/>
<rect x="518.8" y="0" width="1.2" height="376" fill="#000"/>
<rect x="0" y="374.55" width="520" height="1.45" fill="#000"/>
</svg></body></html>
